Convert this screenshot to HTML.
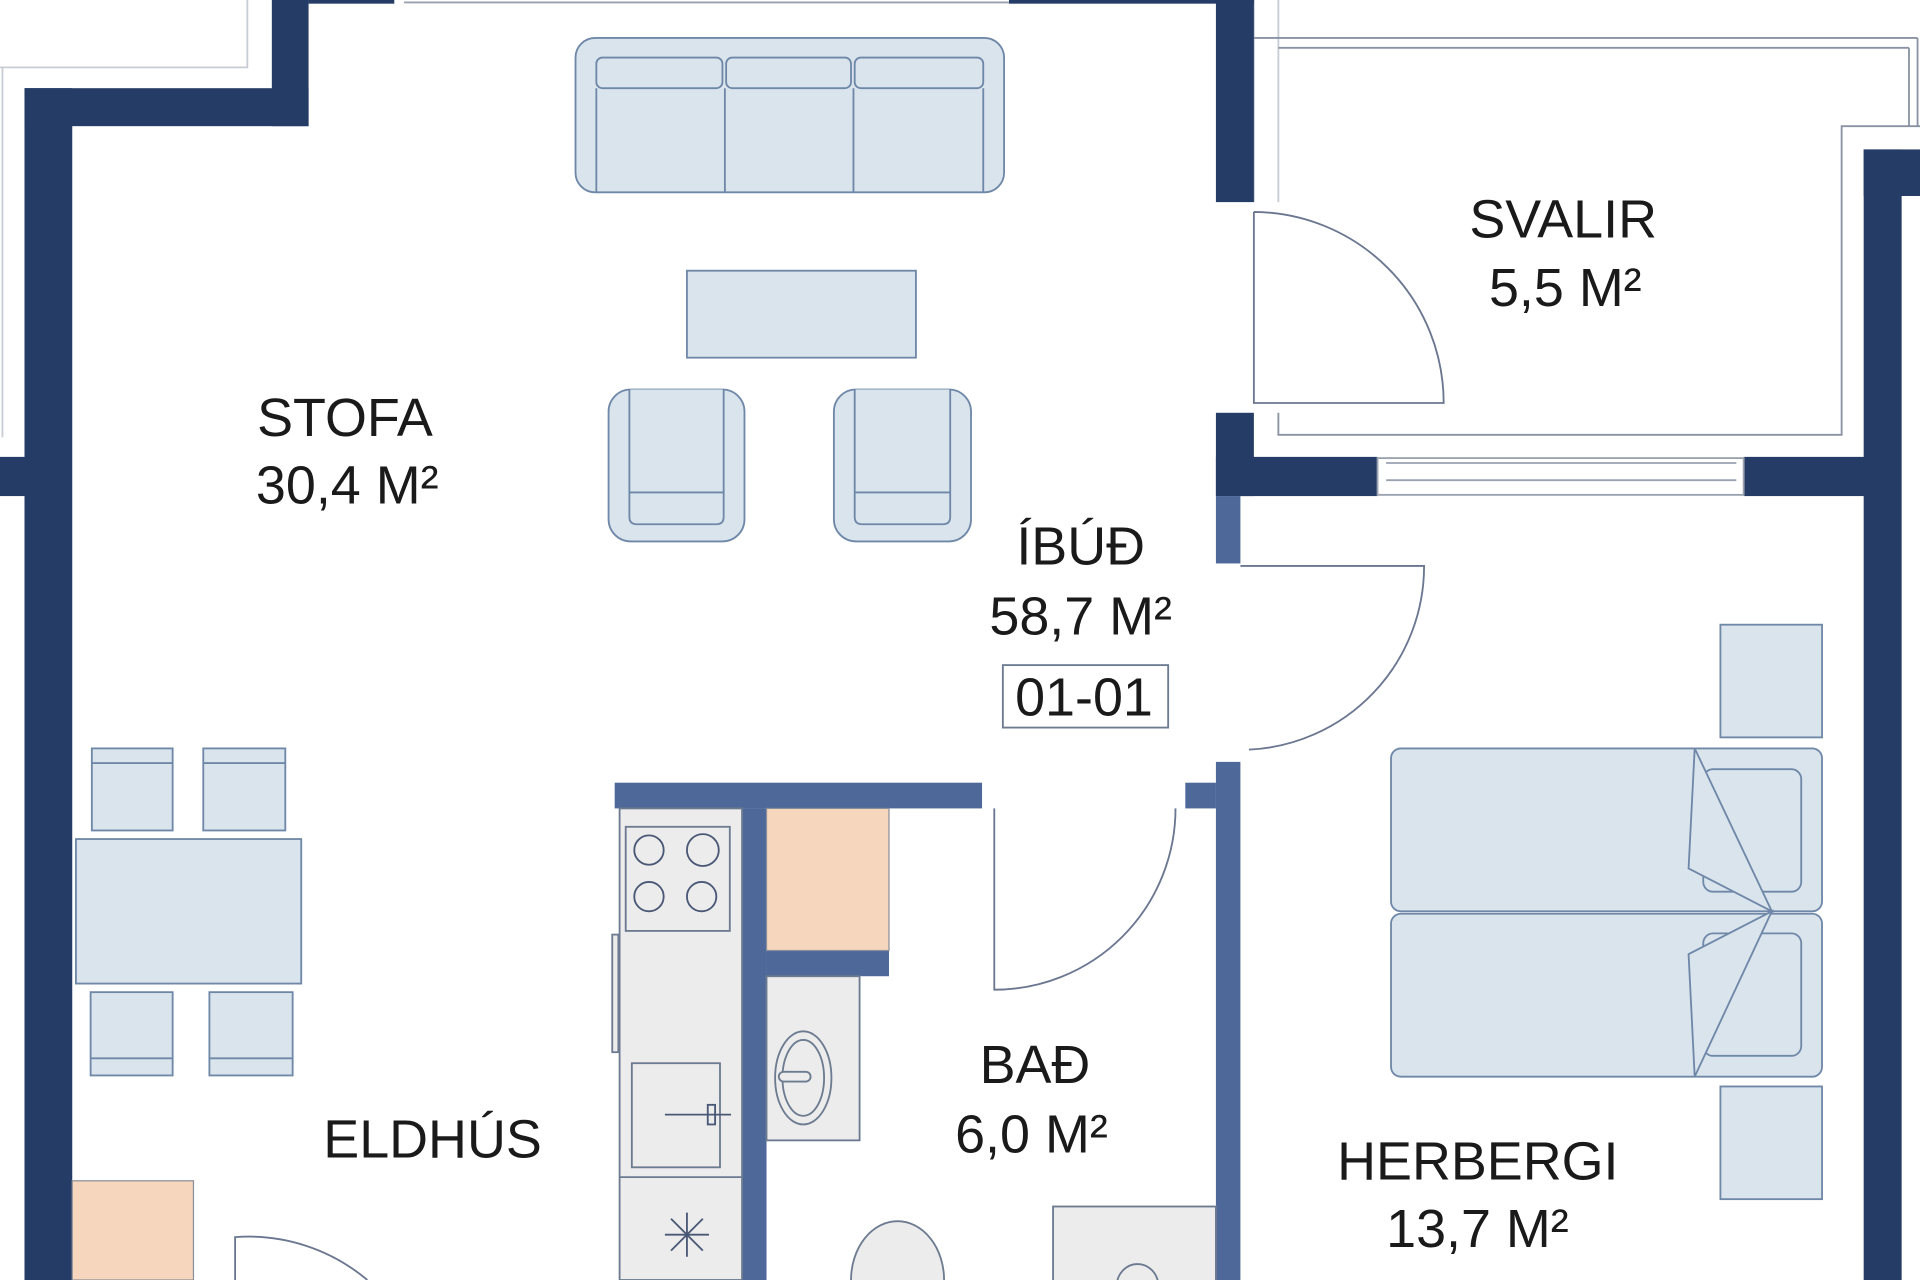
<!DOCTYPE html>
<html><head><meta charset="utf-8"><style>
html,body{margin:0;padding:0;background:#fff;overflow:hidden}
svg{display:block}
text{font-family:"Liberation Sans",Arial,sans-serif;fill:#1a1a1a;font-size:44px;letter-spacing:0px}
</style></head><body>
<svg width="1920" height="1280" viewBox="0 0 1568 1045" preserveAspectRatio="none" xmlns="http://www.w3.org/2000/svg">
<g fill="none" stroke="#c8ccd4" stroke-width="1.5">
<polyline points="0,55 202,55 202,0"/>
<line x1="2" y1="55" x2="2" y2="357"/>
<line x1="1024" y1="0" x2="1024" y2="165"/>
<line x1="1044" y1="0" x2="1044" y2="165"/>
</g>
<g fill="none" stroke="#8a93a3" stroke-width="1.5">
<line x1="1024" y1="31" x2="1566" y2="31"/>
<line x1="1044" y1="39" x2="1559" y2="39"/>
<line x1="1566" y1="31" x2="1566" y2="103"/>
<line x1="1559" y1="39" x2="1559" y2="103"/>
<polyline points="1568,103 1504,103 1504,355 1044,355 1044,337"/>
</g>
<g fill="#243c66">
<rect x="222" y="0" width="30" height="103"/>
<rect x="20" y="72" width="232" height="31"/>
<rect x="20" y="72" width="39" height="973"/>
<rect x="0" y="373" width="20" height="32"/>
<rect x="252" y="0" width="70" height="3"/>
<rect x="824" y="0" width="200" height="3"/>
<rect x="993" y="0" width="31" height="165"/>
<rect x="993" y="337" width="31" height="68"/>
<rect x="993" y="373" width="132" height="32"/>
<rect x="1424" y="373" width="100" height="32"/>
<rect x="1522" y="122" width="46" height="38"/>
<rect x="1522" y="122" width="31" height="923"/>
</g>
<g stroke="#9aa2b0" stroke-width="1.5" fill="none">
<line x1="330" y1="2" x2="824" y2="2"/>
<rect x="1125" y="374" width="299" height="30"/>
<line x1="1132" y1="378" x2="1418" y2="378"/>
<line x1="1132" y1="392" x2="1418" y2="392"/>
</g>
<g fill="#4d6899">
<rect x="993" y="405" width="20" height="55"/>
<rect x="993" y="622" width="20" height="423"/>
<rect x="968" y="639" width="25" height="21"/>
<rect x="502" y="639" width="300" height="21"/>
<rect x="606" y="660" width="20" height="385"/>
<rect x="626" y="776" width="100" height="21"/>
</g>
<g fill="none" stroke="#6b7790" stroke-width="1.5">
<path d="M1024,173 V329 H1179 A156,156 0 0 0 1024,173"/>
<path d="M1013,462 H1163 A150,150 0 0 1 1020,612"/>
<path d="M812,660 V808 A148,148 0 0 0 960,660"/>
<path d="M192,1045 V1010 A150,150 0 0 1 300,1045"/>
</g>
<g fill="#d9e4ed" stroke="#7088a8" stroke-width="1.5">
<rect x="470" y="31" width="350" height="126" rx="16"/>
<rect x="487" y="47" width="103" height="25" rx="5"/>
<rect x="593" y="47" width="102" height="25" rx="5"/>
<rect x="698" y="47" width="105" height="25" rx="5"/>
<line x1="487" y1="72" x2="487" y2="157"/>
<line x1="592" y1="72" x2="592" y2="157"/>
<line x1="697" y1="72" x2="697" y2="157"/>
<line x1="803" y1="72" x2="803" y2="157"/>
<rect x="561" y="221" width="187" height="71"/>
<rect x="497" y="318" width="111" height="124" rx="18"/>
<path d="M514,318 V422 Q514,428 520,428 H585 Q591,428 591,422 V318 M514,402 H591"/>
<rect x="681" y="318" width="112" height="124" rx="18"/>
<path d="M698,318 V422 Q698,428 704,428 H770 Q776,428 776,422 V318 M698,402 H776"/>
<rect x="75" y="611" width="66" height="67"/><line x1="75" y1="623" x2="141" y2="623"/>
<rect x="166" y="611" width="67" height="67"/><line x1="166" y1="623" x2="233" y2="623"/>
<rect x="62" y="685" width="184" height="118"/>
<rect x="74" y="810" width="67" height="68"/><line x1="74" y1="864" x2="141" y2="864"/>
<rect x="171" y="810" width="68" height="68"/><line x1="171" y1="864" x2="239" y2="864"/>
<rect x="1405" y="510" width="83" height="92"/>
<rect x="1405" y="887" width="83" height="92"/>
<rect x="1136" y="611" width="352" height="133" rx="8"/>
<rect x="1136" y="746" width="352" height="133" rx="8"/>
<rect x="1391" y="628" width="80" height="100" rx="8"/>
<rect x="1391" y="762" width="80" height="100" rx="8"/>
<path d="M1384,611 L1379,709 L1447,744 L1384,611 M1384,879 L1379,779 L1447,744 L1384,879"/>
</g>
<g fill="#f6d6bd" stroke="#8a8f99" stroke-width="1">
<rect x="626" y="660" width="100" height="116"/>
<rect x="59" y="964" width="99" height="81"/>
</g>
<g fill="#ececec" stroke="#6d7b90" stroke-width="1.5">
<rect x="506" y="660" width="100" height="385"/>
<rect x="511" y="675" width="85" height="85"/>
<rect x="500" y="763" width="5" height="96"/>
<rect x="516" y="868" width="72" height="85"/>
<line x1="506" y1="961" x2="606" y2="961"/>
<rect x="626" y="797" width="76" height="134"/>
<ellipse cx="656" cy="880" rx="23" ry="38"/>
<ellipse cx="656" cy="880" rx="17" ry="31"/>
<rect x="636" y="875" width="26" height="8" rx="4"/>
<rect x="860" y="985" width="133" height="70"/>
<ellipse cx="929" cy="1050" rx="17" ry="18"/>
<ellipse cx="733" cy="1045" rx="38" ry="48"/>
</g>
<g fill="none" stroke="#4a5876" stroke-width="1.5">
<circle cx="530" cy="694" r="12"/><circle cx="574" cy="694" r="13"/>
<circle cx="530" cy="732" r="12"/><circle cx="573" cy="732" r="12"/>
<line x1="543" y1="910" x2="597" y2="910"/><rect x="578" y="902" width="6" height="16"/>
<path d="M561,990 V1026 M543,1008 H579 M548,995 L574,1021 M574,995 L548,1021"/>
</g>
<text x="210" y="356">STOFA</text>
<text x="209" y="411">30,4 M²</text>
<text x="1200" y="194">SVALIR</text>
<text x="1216" y="250">5,5 M²</text>
<text x="830" y="461">ÍBÚÐ</text>
<text x="808" y="518">58,7 M²</text>
<rect x="819" y="543" width="135" height="51" fill="none" stroke="#6d7b90" stroke-width="1.5"/>
<text x="829" y="584">01-01</text>
<text x="264" y="945">ELDHÚS</text>
<text x="800" y="884">BAÐ</text>
<text x="780" y="941">6,0 M²</text>
<text x="1092" y="963">HERBERGI</text>
<text x="1132" y="1018">13,7 M²</text>
</svg>
</body></html>
